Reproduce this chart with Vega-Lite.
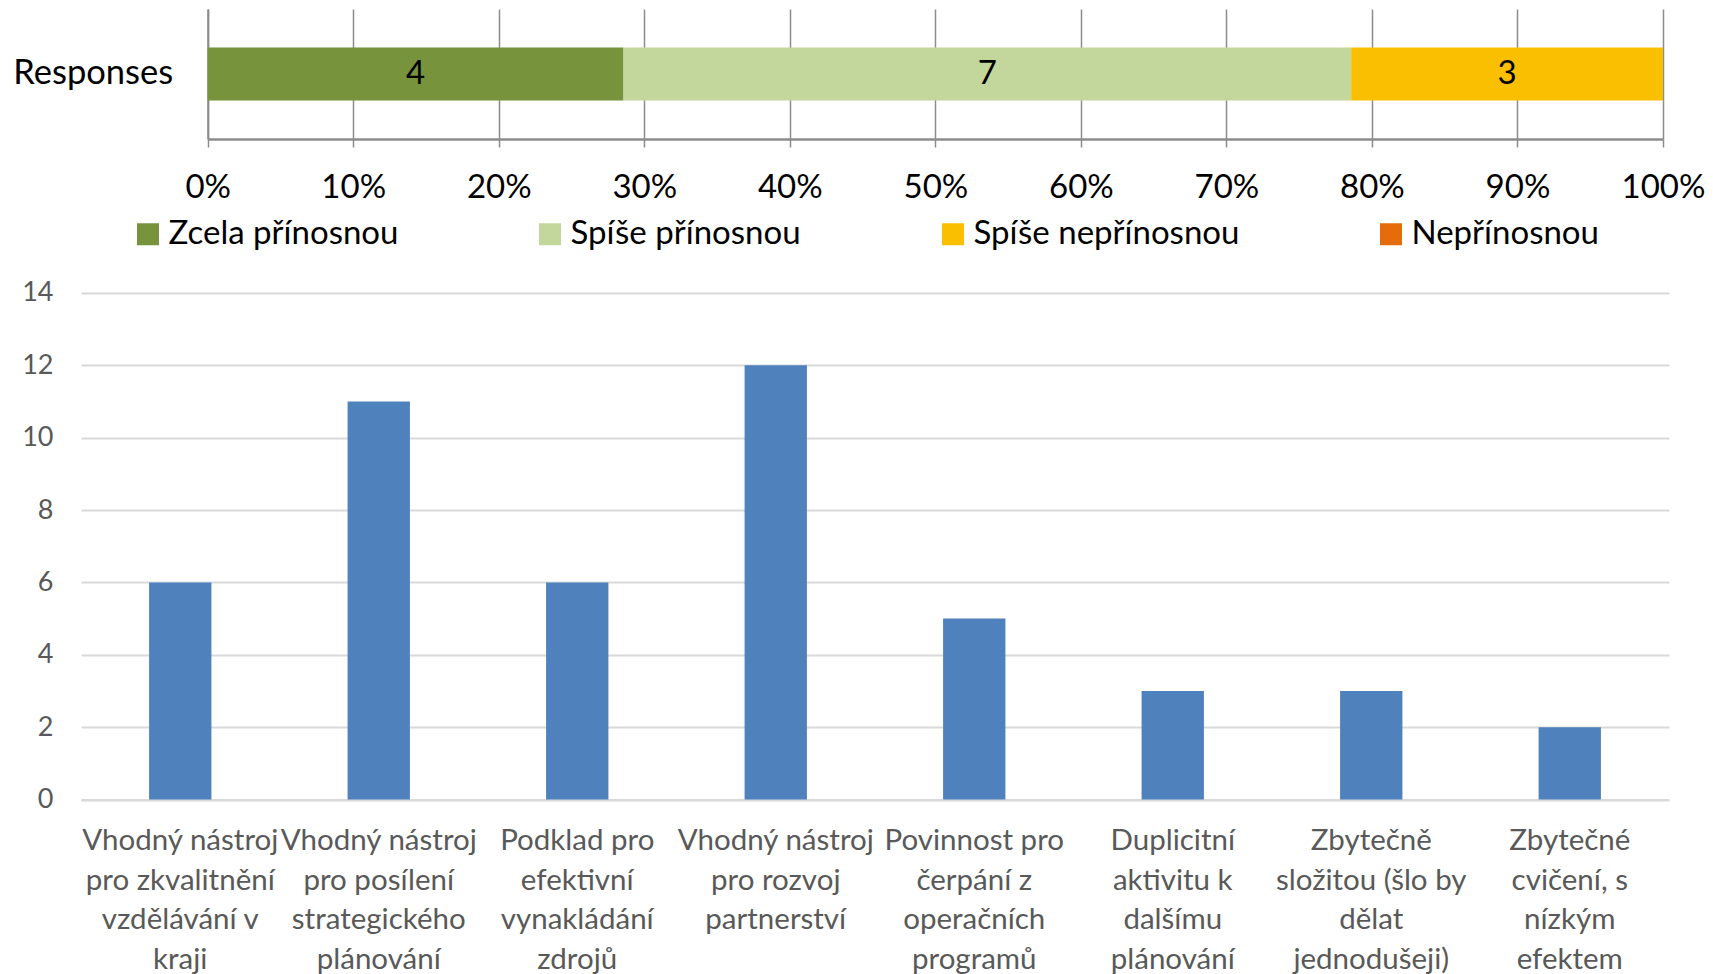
{
  "$schema": "https://vega.github.io/schema/vega-lite/v6.json",
  "padding": {"left": 12, "top": 9, "right": 5, "bottom": 0},
  "config": {"font": "Lato", "view": {"stroke": null}},
  "spacing": 74.9,
  "vconcat": [
    {
      "width": 1588,
      "height": 130,
      "data": {"values": [
        {"category": "Responses", "answer": "Zcela přínosnou", "count": 4, "order": 1},
        {"category": "Responses", "answer": "Spíše přínosnou", "count": 7, "order": 2},
        {"category": "Responses", "answer": "Spíše nepřínosnou", "count": 3, "order": 3},
        {"category": "Responses", "answer": "Nepřínosnou", "count": 0, "order": 4}
      ]},
      "transform": [
        {"stack": "count", "groupby": ["category"], "sort": [{"field": "order"}], "offset": "normalize", "as": ["s0", "s1"]},
        {"calculate": "(datum.s0 + datum.s1) / 2", "as": "mid"}
      ],
      "encoding": {
        "y": {"field": "category", "type": "nominal", "title": null,
          "scale": {"paddingInner": 0, "paddingOuter": 0.726},
          "axis": {"offset": -126.7, "labelFontSize": 34.5, "labelColor": "#000000", "labelPadding": 35, "ticks": false, "domain": true, "domainColor": "#8C8C8C", "domainWidth": 2}}
      },
      "layer": [
        {
          "mark": {"type": "bar"},
          "encoding": {
            "x": {"field": "s0", "type": "quantitative", "title": null,
              "scale": {"domain": [0, 1], "range": [126.7, 1582], "nice": false},
              "axis": {"format": "%", "values": [0, 0.1, 0.2, 0.3, 0.4, 0.5, 0.6, 0.7, 0.8, 0.9, 1], "grid": true, "gridColor": "#8C8C8C", "gridWidth": 1.5, "tickColor": "#8C8C8C", "tickSize": 8, "tickWidth": 1.5, "domainColor": "#8C8C8C", "domainWidth": 2.5, "labelFontSize": 33, "labelColor": "#000000", "labelPadding": 24, "labelFlush": false}},
            "x2": {"field": "s1"},
            "color": {"field": "answer", "type": "nominal", "title": null,
              "scale": {"domain": ["Zcela přínosnou", "Spíše přínosnou", "Spíše nepřínosnou", "Nepřínosnou"], "range": ["#77933C", "#C3D69B", "#FAC000", "#E46C0A"]},
              "legend": {"orient": "none", "legendX": 50.5, "legendY": 208.5, "direction": "horizontal", "columns": 4, "symbolType": "square", "symbolSize": 484, "symbolStrokeWidth": 0, "symbolOpacity": 1, "labelFontSize": 33, "labelColor": "#000000", "labelOffset": 4, "columnPadding": 135, "labelLimit": 400}}
          }
        },
        {
          "transform": [{"filter": "datum.count > 0"}],
          "mark": {"type": "text", "fontSize": 33, "color": "#000000"},
          "encoding": {
            "x": {"field": "mid", "type": "quantitative"},
            "text": {"field": "count", "type": "quantitative"}
          }
        }
      ]
    },
    {
      "width": 1588,
      "height": 506.6,
      "data": {"values": [
        {"label": "Vhodný nástroj|pro zkvalitnění|vzdělávání v|kraji", "count": 6},
        {"label": "Vhodný nástroj|pro posílení|strategického|plánování", "count": 11},
        {"label": "Podklad pro|efektivní|vynakládání|zdrojů", "count": 6},
        {"label": "Vhodný nástroj|pro rozvoj|partnerství", "count": 12},
        {"label": "Povinnost pro|čerpání z|operačních|programů", "count": 5},
        {"label": "Duplicitní|aktivitu k|dalšímu|plánování", "count": 3},
        {"label": "Zbytečně|složitou (šlo by|dělat|jednodušeji)", "count": 3},
        {"label": "Zbytečné|cvičení, s|nízkým|efektem", "count": 2}
      ]},
      "mark": {"type": "bar", "color": "#4F81BD"},
      "encoding": {
        "x": {"field": "label", "type": "nominal", "sort": null, "title": null,
          "scale": {"paddingInner": 0.686, "paddingOuter": 0.343},
          "axis": {"labelExpr": "split(datum.value, '|')", "labelAngle": 0, "labelFontSize": 29.5, "labelColor": "#595959", "labelLineHeight": 39.5, "labelBaseline": "top", "labelPadding": 27, "labelLimit": 400, "labelOverlap": false, "ticks": false, "domainColor": "#D9D9D9", "domainWidth": 2}},
        "y": {"field": "count", "type": "quantitative", "title": null,
          "scale": {"domain": [0, 14], "nice": false},
          "axis": {"values": [0, 2, 4, 6, 8, 10, 12, 14], "grid": true, "gridColor": "#D9D9D9", "gridWidth": 2, "domain": false, "ticks": false, "labelFontSize": 27, "labelColor": "#595959", "labelPadding": 28}}
      }
    }
  ]
}
